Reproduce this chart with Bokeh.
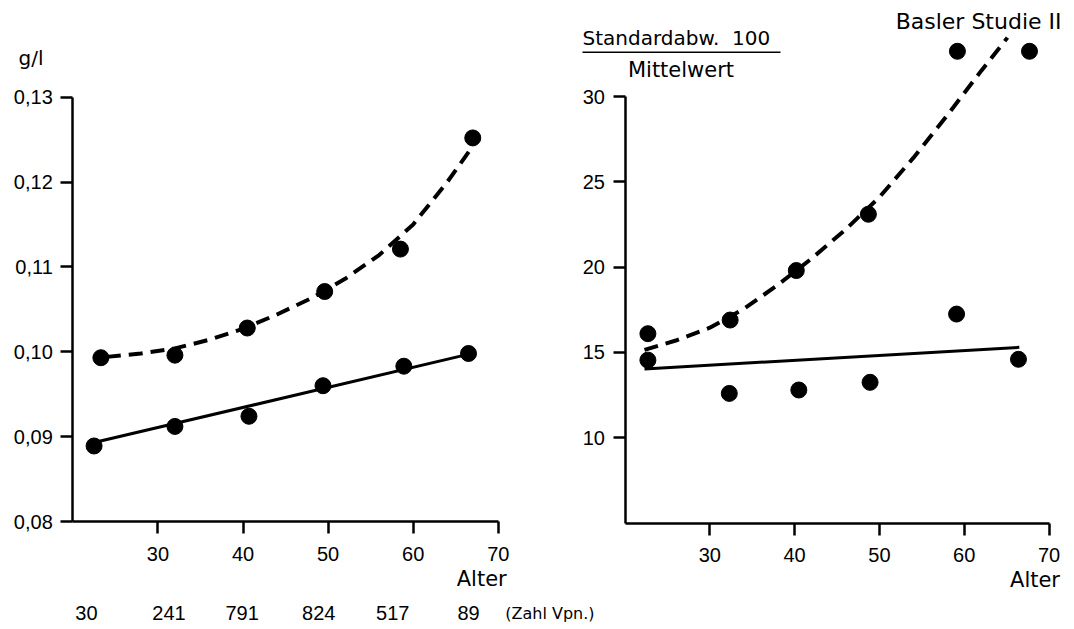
from bokeh.plotting import figure
from bokeh.models import (FixedTicker, Label, CustomJSTickFormatter, Range1d,
                          LinearAxis)
from bokeh.embed import file_html
from bokeh.resources import INLINE

# ---------------- data ----------------
age_ticks = [30, 40, 50, 60, 70]

# left panel (g/l)
left_upper_age = [23.3, 32.0, 40.5, 49.6, 58.5, 67.0]
left_upper_val = [0.0993, 0.0996, 0.1028, 0.1071, 0.1121, 0.1252]
left_lower_age = [22.5, 32.0, 40.7, 49.4, 58.9, 66.5]
left_lower_val = [0.0889, 0.0912, 0.0924, 0.0960, 0.0983, 0.0998]
left_curve_age = [24, 28, 32, 36, 40, 44, 48, 52, 56, 60, 64, 66.7]
left_curve_val = [0.0994, 0.0998, 0.1004, 0.1014, 0.1027, 0.1044, 0.1063,
                  0.1086, 0.1114, 0.1150, 0.1200, 0.1238]
left_line_age = [22.5, 67.3]
left_line_val = [0.0893, 0.0999]
left_val_ticks = [0.08, 0.09, 0.10, 0.11, 0.12, 0.13]

group_n = ["30", "241", "791", "824", "517", "89"]
group_n_age = [21.6, 31.3, 39.9, 48.9, 57.6, 66.5]

# right panel (Standardabw. 100 / Mittelwert)
right_upper_age = [22.7, 32.4, 40.2, 48.7, 59.2, 67.7]
right_upper_val = [16.1, 16.9, 19.8, 23.1, 32.65, 32.65]
right_lower_age = [22.7, 32.3, 40.5, 48.9, 59.1, 66.4]
right_lower_val = [14.55, 12.6, 12.8, 13.25, 17.25, 14.6]
right_curve_age = [22.3, 26, 30, 34, 38, 42, 46, 50, 54, 58, 62, 65.1]
right_curve_val = [15.15, 15.7, 16.45, 17.55, 18.95, 20.5, 22.2, 24.1,
                   26.4, 28.9, 31.5, 33.45]
right_line_age = [22.3, 66.5]
right_line_val = [14.03, 15.3]
right_val_ticks = [10, 15, 20, 25, 30]

# ---------------- layout (pixel calibration of the two panels) ----------------
W, H = 1074, 629
L_AGE20_PX, L_PX_PER_YEAR = 72.3, 8.51      # left panel: age 20 at x=72.3
L_V08_PX, L_PX_PER_UNIT = 521.0, 8486.0     # left panel: 0.08 at y=521 (from top)
R_AGE20_PX, R_PX_PER_YEAR = 624.5, 8.48     # right panel: age 20 at x=624.5
R_V5_PX, R_PX_PER_UNIT = 522.6, 17.064      # right panel: 5 at y=522.6
BASELINE_FIX = 7.5                          # label baseline correction (px)

NUM_FONT = "Liberation Sans"
WORD_FONT = "DejaVu Sans"
INK = "black"


def x_range(age20_px, ppy):
    return Range1d(20 - age20_px / ppy, 20 + (W - age20_px) / ppy)


def y_range(v0, v0_px, ppu):
    return Range1d(v0 - (H - v0_px) / ppu, v0 + v0_px / ppu)


p = figure(width=W, height=H,
           x_range=x_range(L_AGE20_PX, L_PX_PER_YEAR),
           y_range=y_range(0.08, L_V08_PX, L_PX_PER_UNIT),
           x_axis_type=None, y_axis_type=None,
           output_backend="svg", toolbar_location=None, title=None,
           min_border=0, min_border_left=0, min_border_right=0,
           min_border_top=0, min_border_bottom=0)
p.extra_x_ranges = {"rx": x_range(R_AGE20_PX, R_PX_PER_YEAR)}
p.extra_y_ranges = {"ry": y_range(5, R_V5_PX, R_PX_PER_UNIT)}
p.outline_line_color = None
p.background_fill_color = "white"
p.border_fill_color = "white"


def style(ax, standoff):
    ax.axis_line_width = 2.5
    ax.axis_line_color = INK
    ax.major_tick_line_width = 2.5
    ax.major_tick_line_color = INK
    ax.minor_tick_line_color = None
    ax.major_tick_in = 0
    ax.major_tick_out = 12
    ax.major_label_text_font = NUM_FONT
    ax.major_label_text_font_size = "20px"
    ax.major_label_text_color = INK
    ax.major_label_standoff = standoff
    return ax


# left panel axes
p.add_layout(style(LinearAxis(fixed_location=0.08, bounds=(20, 70),
                              ticker=FixedTicker(ticks=age_ticks)), 13), "below")
p.add_layout(style(LinearAxis(fixed_location=20, bounds=(0.08, 0.13),
                              ticker=FixedTicker(ticks=left_val_ticks),
                              formatter=CustomJSTickFormatter(
                                  code="return tick.toFixed(2).replace('.', ',');")), 8),
             "left")
# right panel axes
R = dict(x_range_name="rx", y_range_name="ry")
p.add_layout(style(LinearAxis(fixed_location=5, bounds=(20, 70),
                              ticker=FixedTicker(ticks=age_ticks), **R), 13), "below")
p.add_layout(style(LinearAxis(fixed_location=20, bounds=(5, 30),
                              ticker=FixedTicker(ticks=right_val_ticks), **R), 8), "left")

# left panel marks
p.line(left_curve_age, left_curve_val, line_width=4, line_dash="14 8", color=INK)
p.line(left_line_age, left_line_val, line_width=3, color=INK)
p.scatter(left_upper_age, left_upper_val, size=16, color=INK)
p.scatter(left_lower_age, left_lower_val, size=16, color=INK)

# right panel marks
p.line(right_curve_age, right_curve_val, line_width=4, line_dash="14 8", color=INK, **R)
p.line(right_line_age, right_line_val, line_width=3, color=INK, **R)
p.scatter(right_upper_age, right_upper_val, size=16, color=INK, **R)
p.scatter(right_lower_age, right_lower_val, size=16, color=INK, **R)


def txt(x, y, y_px, base_px, text, font, size, align="left", dx=0, right=False):
    """Label anchored at data (x, y) whose baseline should sit at base_px."""
    kw = R if right else {}
    p.add_layout(Label(x=x, y=y, x_offset=dx, y_offset=(y_px - base_px) + BASELINE_FIX,
                       text=text, text_font=font, text_font_size=size, text_color=INK,
                       text_align=align, text_baseline="alphabetic", **kw))


# left panel texts (anchored to 0.13 or 0.08)
L13_PX = L_V08_PX - 0.05 * L_PX_PER_UNIT
txt(20, 0.13, L13_PX, 65, "g/l", WORD_FONT, "20px", "center", dx=-41.8)
txt(70, 0.08, L_V08_PX, 586, "Alter", WORD_FONT, "21px", "right", dx=8.4)
for a, n in zip(group_n_age, group_n):
    txt(a, 0.08, L_V08_PX, 620, n, NUM_FONT, "20px", "center")
txt(70, 0.08, L_V08_PX, 620, "(Zahl Vpn.)", WORD_FONT, "16px", "left", dx=7)

# right panel texts (anchored to 30 or 5)
R30_PX = R_V5_PX - 25 * R_PX_PER_UNIT
txt(70, 5, R_V5_PX, 587, "Alter", WORD_FONT, "21px", "right", dx=11, right=True)
txt(70, 30, R30_PX, 28.3, "Basler Studie II", WORD_FONT, "22px", "right", dx=12.5, right=True)
txt(20, 30, R30_PX, 45, "Standardabw. \u00a0100", WORD_FONT, "20px", "left", dx=-42.5,
    right=True)
txt(20, 30, R30_PX, 76.7, "Mittelwert", WORD_FONT, "21px", "center", dx=56, right=True)

# fraction bar under "Standardabw. 100"
bar_x0 = 20 + (582 - R_AGE20_PX) / R_PX_PER_YEAR
bar_x1 = 20 + (780 - R_AGE20_PX) / R_PX_PER_YEAR
bar_y = 30 + (R30_PX - 51.7) / R_PX_PER_UNIT
p.segment(x0=[bar_x0], y0=[bar_y], x1=[bar_x1], y1=[bar_y], line_width=1.5,
          color=INK, **R)

open("out.html", "w").write(file_html(p, INLINE))
